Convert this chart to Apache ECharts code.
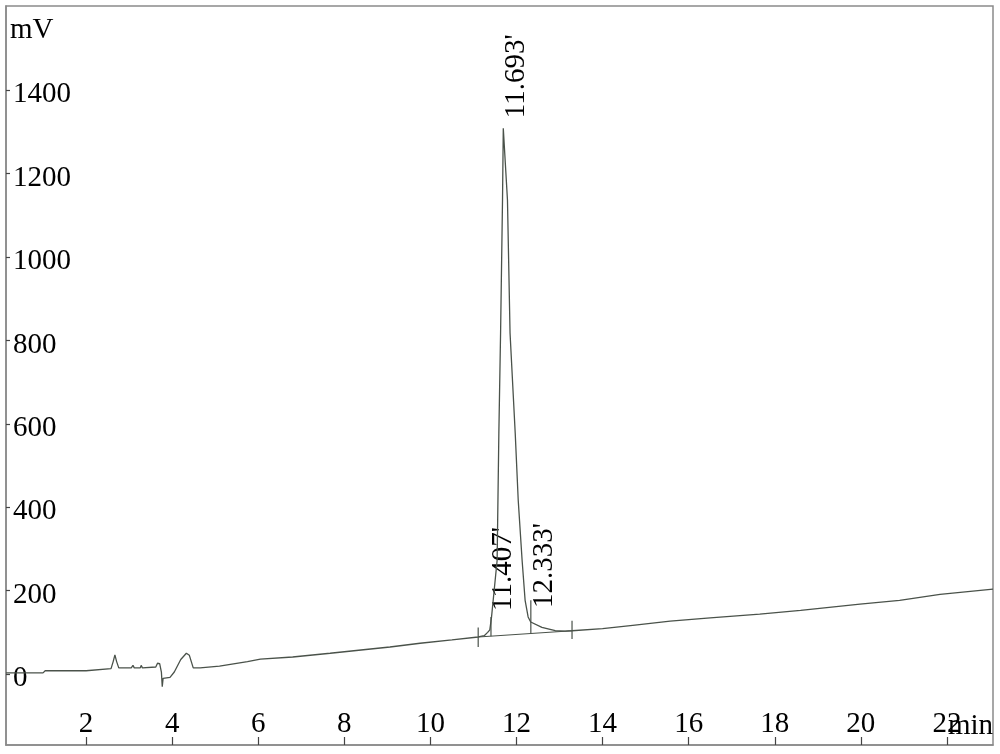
<!DOCTYPE html>
<html>
<head>
<meta charset="utf-8">
<script src="https://cdn.jsdelivr.net/npm/echarts@6/dist/echarts.min.js"></script>
<style>
html,body{margin:0;padding:0;background:#fff;}
#chart{width:1000px;height:754px;}
</style>
</head>
<body>
<div id="chart"></div>
<script>
// chromatogram trace, time in min / signal in mV
var timeMin = [0.14,1.00,1.05,2.00,2.03,2.58,2.63,2.67,2.71,2.76,3.05,3.09,3.12,3.26,3.28,3.31,3.62,3.66,3.71,3.75,3.77,3.79,3.95,4.05,4.20,4.33,4.40,4.49,4.65,5.10,5.75,6.05,6.80,7.67,8.50,9.06,9.76,10.50,11.11,11.25,11.33,11.38,11.42,11.55,11.59,11.63,11.675,11.693,11.79,11.85,11.97,12.04,12.13,12.20,12.27,12.33,12.59,12.90,13.13,13.29,14.00,14.70,15.57,16.50,17.65,18.60,19.98,20.90,21.84,23.07];
var signalMv = [3,3,8,8,12,13,30,46,30,15,15,21,15,15,21,15,17,26,25,5,-30,-10,-8,5,35,50,45,15,15,19,30,36,41,50,59,65,74,82,89,92,100,106,137,273,578,818,1137,1309,1137,818,578,417,273,177,137,125,112,104,103,104,109,117,127,135,144,153,168,177,191,204];

// integration baseline under the main peak
var baseTime = [11.11,13.29];
var baseMv = [89,104];

// short vertical marks: start/end of integration and peak drop lines
var markTime = [11.11,11.407,12.333,13.29];
var markLow = [65,91,97,84];
var markHigh = [112,137,177,128];

// peak labels
var peakTime = [11.693,11.407,12.333];
var peakMv = [1309,137,125];
var peakText = ["11.693'","11.407'","12.333'"];
var peakDx = [13,12,14];
var peakDy = [-10,-6,-14];

var xTicks = [2,4,6,8,10,12,14,16,18,20,22];
var yTicks = [0,200,400,600,800,1000,1200,1400];

var lineColor = '#4a524a';
var frameColor = '#8a8a8a';
var fontName = 'Liberation Serif';

var myChart = echarts.init(document.getElementById('chart'));

var series = [{
	type:'line',
	data:timeMin.map(function(t,i){return [t,signalMv[i]];}),
	symbol:'none',
	lineStyle:{color:lineColor,width:1.3},
	animation:false
},{
	type:'line',
	data:baseTime.map(function(t,i){return [t,baseMv[i]];}),
	symbol:'none',
	lineStyle:{color:lineColor,width:1.2},
	animation:false
}];
markTime.forEach(function(t,i){
	series.push({
		type:'line',
		data:[[t,markLow[i]],[t,markHigh[i]]],
		symbol:'none',
		lineStyle:{color:lineColor,width:1.2},
		animation:false
	});
});

myChart.setOption({
	animation:false,
	grid:{
		left:6,
		right:7,
		top:6,
		bottom:9,
		show:true,
		borderColor:frameColor,
		borderWidth:1.5
	},
	xAxis:{
		type:'value',
		min:0.14,
		max:23.07,
		splitLine:{show:false},
		axisLine:{show:true,onZero:false,lineStyle:{color:frameColor,width:1.5}},
		axisTick:{show:true,inside:true,length:8,customValues:xTicks,lineStyle:{color:'#444',width:1.2}},
		axisLabel:{inside:true,margin:6,customValues:xTicks,color:'#000',fontFamily:fontName,fontSize:29,
			formatter:function(v){return String(v);}}
	},
	yAxis:{
		type:'value',
		min:-170,
		max:1602,
		splitLine:{show:false},
		axisLine:{show:true,onZero:false,lineStyle:{color:frameColor,width:1.5}},
		axisTick:{show:true,inside:true,length:4,customValues:yTicks,lineStyle:{color:'#444',width:1.2}},
		axisLabel:{inside:true,margin:7,customValues:yTicks,color:'#000',fontFamily:fontName,fontSize:29,verticalAlign:'top',padding:[-10,0,0,0],
			formatter:function(v){return String(v);}}
	},
	series:series
});

// text that is not tied to the axes ticks
var graphics = [{
	type:'text',
	left:10,
	top:16,
	style:{text:'mV',font:'29px "Liberation Serif"',fill:'#000'}
},{
	type:'text',
	left:948,
	top:712,
	style:{text:'min',font:'29px "Liberation Serif"',fill:'#000'}
}];
peakTime.forEach(function(t,i){
	var p = myChart.convertToPixel({gridIndex:0},[t,peakMv[i]]);
	graphics.push({
		type:'text',
		x:p[0]+peakDx[i],
		y:p[1]+peakDy[i],
		rotation:Math.PI/2,
		style:{text:peakText[i],font:'29px "Liberation Serif"',fill:'#000',align:'left',verticalAlign:'middle'}
	});
});
myChart.setOption({graphic:graphics});
window.onresize = myChart.resize;
</script>
</body>
</html>
